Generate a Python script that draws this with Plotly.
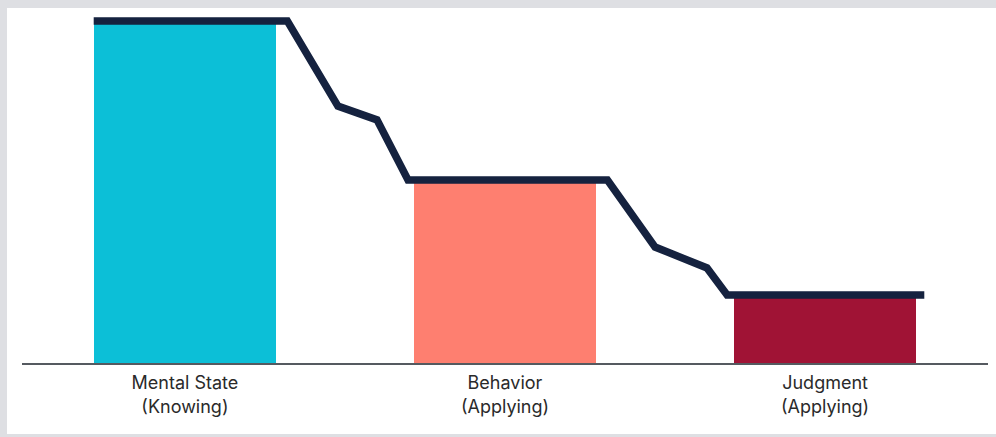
import plotly.graph_objects as go

# Stage categories and their levels
categories = ["Mental State<br>(Knowing)", "Behavior<br>(Applying)", "Judgment<br>(Applying)"]
positions = [0, 1, 2]
levels = [100, 53.5, 20]
bar_colors = ["#0cbfd7", "#fe7f70", "#a01335"]

# Outline path tracing the drop from one stage to the next
path_x = [-0.285, 0.32, 0.478, 0.60, 0.697, 1.32, 1.469, 1.631, 1.694, 2.31]
path_y = [100, 100, 75.1, 71.1, 53.5, 53.5, 33.9, 27.8, 19.9, 19.9]

fig = go.Figure()

fig.add_trace(go.Bar(
    x=positions,
    y=levels,
    width=0.57,
    marker=dict(color=bar_colors, line=dict(width=0)),
    hoverinfo="skip",
))

fig.add_trace(go.Scatter(
    x=path_x,
    y=path_y,
    mode="lines",
    line=dict(color="#15223f", width=7.5),
    hoverinfo="skip",
))

# Light grey frame around the white card (left, top and bottom edges)
frame = "#dedfe3"
for x0, x1, y0, y1 in [
    (-0.03, -0.0155, -0.25, 1.05),
    (-0.03, 1.05, 1.0, 1.05),
    (-0.03, 1.05, -0.25, -0.2),
]:
    fig.add_shape(
        type="rect", xref="paper", yref="paper",
        x0=x0, x1=x1, y0=y0, y1=y1,
        fillcolor=frame, line=dict(width=0), layer="below",
    )

fig.update_layout(
    width=996,
    height=437,
    margin=dict(l=22, r=8, t=8, b=74),
    paper_bgcolor="white",
    plot_bgcolor="white",
    showlegend=False,
    bargap=0,
    font=dict(family="Inter, Roboto, sans-serif", color="#2a2a2a", size=16),
    xaxis=dict(
        range=[-0.509, 2.509],
        tickvals=positions,
        ticktext=categories,
        showgrid=False,
        zeroline=False,
        showline=True,
        linecolor="#555a60",
        linewidth=1.5,
        ticks="",
        ticklabelstandoff=3,
        tickfont=dict(size=18, color="#2a2a2a"),
    ),
    yaxis=dict(
        range=[0, 103.8],
        visible=False,
        showgrid=False,
        zeroline=False,
    ),
)

fig.write_html("out.html")
